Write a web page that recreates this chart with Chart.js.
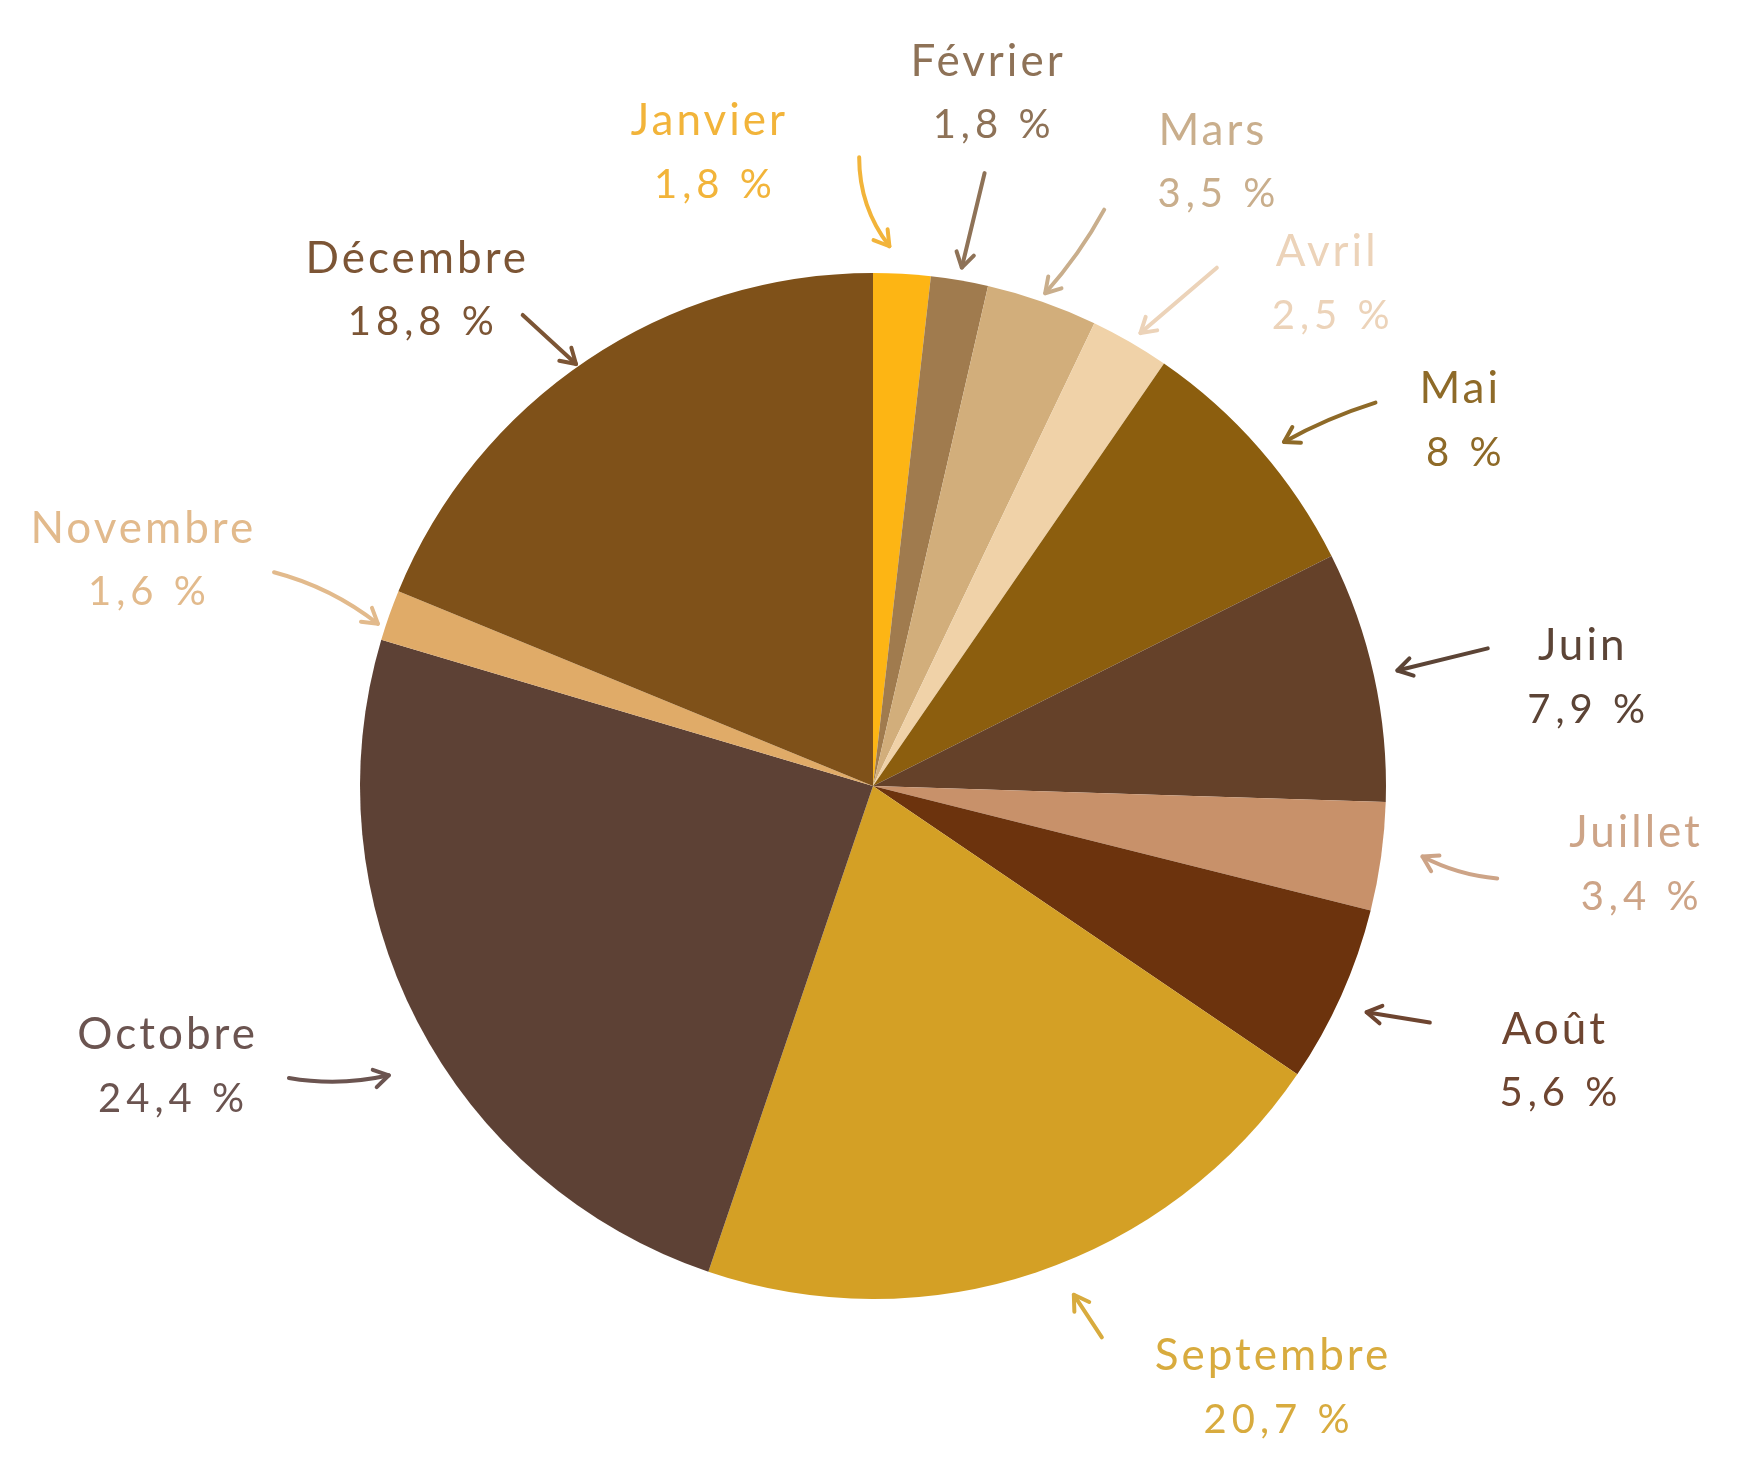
<!DOCTYPE html>
<html>
<head>
<meta charset="utf-8">
<script src="https://cdn.jsdelivr.net/npm/chart.js@4"></script>
<style>
  html, body { margin: 0; padding: 0; background: #ffffff; }
  #wrap { position: relative; width: 1744px; height: 1475px; }
</style>
</head>
<body>
<div id="wrap"><canvas id="c"></canvas></div>
<script>
// ---- data ----
const months = ["Janvier", "Février", "Mars", "Avril", "Mai", "Juin", "Juillet", "Août", "Septembre", "Octobre", "Novembre", "Décembre"];
const shares = [1.8, 1.8, 3.5, 2.5, 8, 7.9, 3.4, 5.6, 20.7, 24.4, 1.6, 18.8];
const sliceColors = ["#FDB514", "#A07B4E", "#D2AE7B", "#F0D2A8", "#8C5E0E", "#654129", "#C8916A", "#6C330D", "#D4A025", "#5D4135", "#E0AB68", "#7F5119"];
const labelColors = ["#F2B43A", "#8E7257", "#C9AE8C", "#ECD3B9", "#8E6A28", "#5C4436", "#CDA487", "#6E4530", "#D8AB3E", "#6B5450", "#E2BA8C", "#7C5535"];

// ---- layout (offsets relative to each slice's mid-angle, in degrees, and distance beyond the rim, px) ----
const labelLayout = [
  [-17.7, 142], [-0.3, 190], [9.3, 198], [12.0, 165], [9.1, 179], [3.7, 205],
  [-2.1, 254], [-2.2, 222], [-15.1, 209], [5.7, 246], [-2.2, 251], [-8.7, 161]
];
// [tailOffDeg, tailDist, tipOffDeg, tipDist, bend]
const arrowLayout = [
  [-4.5, 116, -1.5, 27, 16], [0.6, 110, 0, 13, 0], [2.6, 108, 0, 9, -6], [3.5, 109, 0.5, 13, 0],
  [3.7, 119, 1.1, 23, 5], [-0.2, 117, 0, 24, 0], [0.5, 118, -0.6, 41, -8], [-1.1, 92, 0.5, 30, 0],
  [-4, 84, -3, 34, 0], [0.8, 140, -3.5, 51, 10], [0.2, 123, -1.3, 8, -12], [-2.8, 74, -1.3, 3, 0]
];

const fmt = v => String(v).replace('.', ',') + ' %';

const annotatePlugin = {
  id: 'handLabels',
  afterDatasetsDraw(chart) {
    const ctx = chart.ctx;
    const meta = chart.getDatasetMeta(0);
    const rad = d => d * Math.PI / 180;
    meta.data.forEach((arc, i) => {
      const p = arc.getProps(['x', 'y', 'startAngle', 'endAngle', 'outerRadius'], true);
      const mid = (p.startAngle + p.endAngle) / 2;
      const pol = (off, dist) => {
        const a = mid + rad(off);
        const r = p.outerRadius + dist;
        return [p.x + Math.cos(a) * r, p.y + Math.sin(a) * r];
      };
      const col = labelColors[i];
      // arrow
      const [to, td, po, pd, bend] = arrowLayout[i];
      const [x1, y1] = pol(to, td);
      const [x2, y2] = pol(po, pd);
      const mx = (x1 + x2) / 2, my = (y1 + y2) / 2;
      const len = Math.hypot(x2 - x1, y2 - y1);
      const nx = -(y2 - y1) / len, ny = (x2 - x1) / len;
      const cx = mx + nx * bend, cy = my + ny * bend;
      ctx.save();
      ctx.strokeStyle = col;
      ctx.lineWidth = 4;
      ctx.lineCap = 'round';
      ctx.lineJoin = 'round';
      ctx.beginPath();
      ctx.moveTo(x1, y1);
      ctx.quadraticCurveTo(cx, cy, x2, y2);
      ctx.stroke();
      // head
      const ang = Math.atan2(y2 - cy, x2 - cx);
      const hl = 17, ha = 0.55;
      ctx.beginPath();
      ctx.moveTo(x2 - Math.cos(ang - ha) * hl, y2 - Math.sin(ang - ha) * hl);
      ctx.lineTo(x2, y2);
      ctx.lineTo(x2 - Math.cos(ang + ha) * hl, y2 - Math.sin(ang + ha) * hl);
      ctx.stroke();
      // text
      const [lo, ld] = labelLayout[i];
      const [lx, ly] = pol(lo, ld);
      ctx.fillStyle = col;
      ctx.textAlign = 'center';
      ctx.textBaseline = 'middle';
      if ('letterSpacing' in ctx) ctx.letterSpacing = '3px';
      ctx.font = '400 44px "Lato", "DejaVu Sans", sans-serif';
      ctx.fillText(months[i], lx, ly - 31);
      if ('letterSpacing' in ctx) ctx.letterSpacing = '5px';
      ctx.font = '400 40px "Lato", "DejaVu Sans", sans-serif';
      ctx.fillText(fmt(shares[i]), lx + 6, ly + 33);
      ctx.restore();
    });
  }
};

new Chart(document.getElementById('c'), {
  type: 'pie',
  data: {
    labels: months,
    datasets: [{
      data: shares,
      backgroundColor: sliceColors,
      borderWidth: 0,
      hoverOffset: 0
    }]
  },
  options: {
    responsive: true,
    maintainAspectRatio: false,
    animation: false,
    layout: { padding: { left: 360, top: 273, right: 358, bottom: 176 } },
    plugins: {
      legend: { display: false },
      tooltip: { enabled: false },
      title: { display: false }
    },
    events: []
  },
  plugins: [annotatePlugin]
});
</script>
</body>
</html>
